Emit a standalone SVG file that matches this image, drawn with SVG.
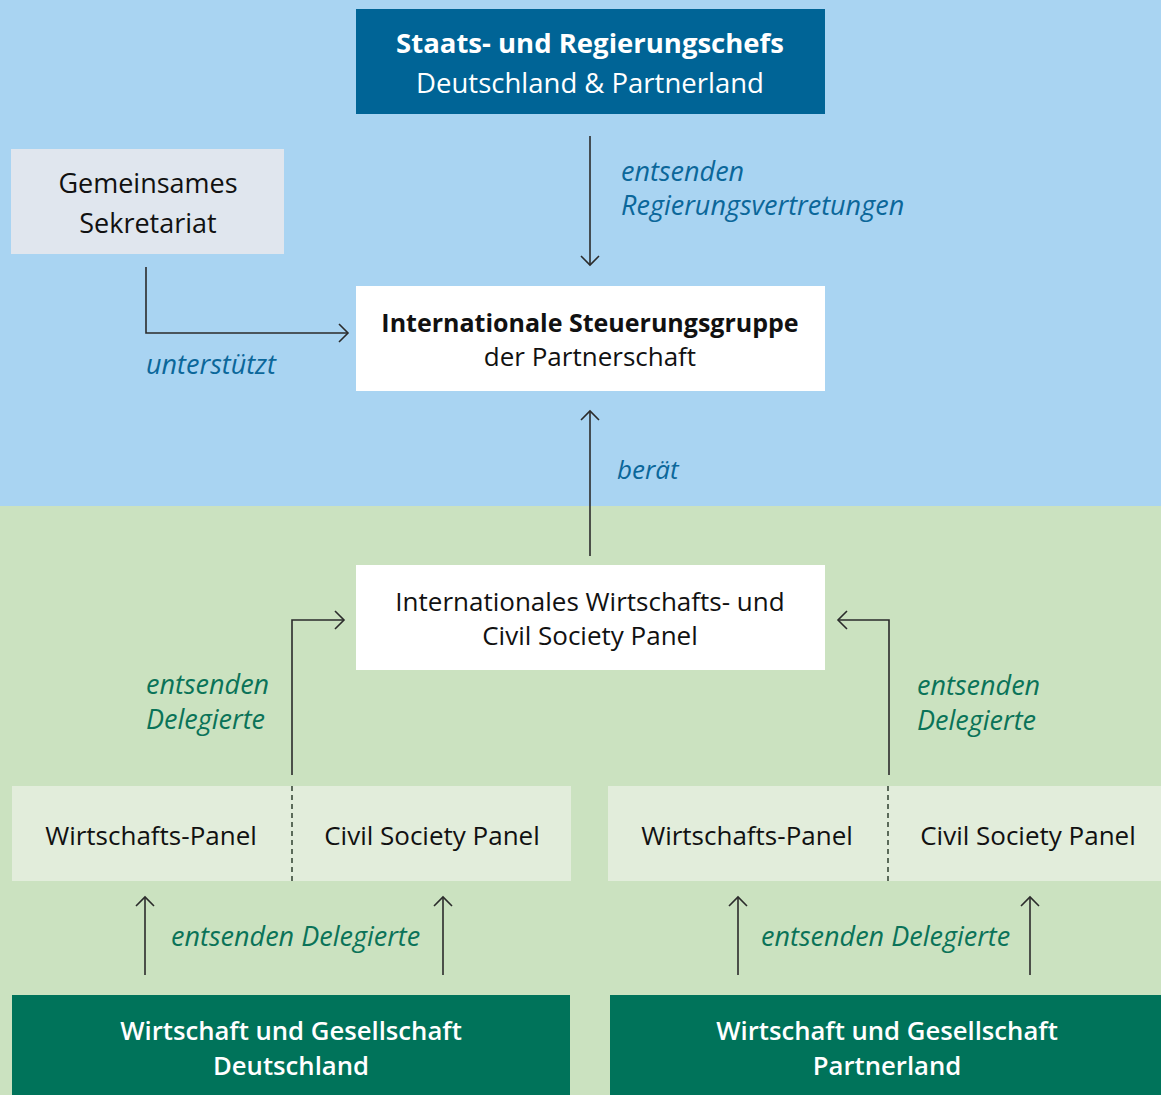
<svg xmlns="http://www.w3.org/2000/svg" width="1161" height="1095" viewBox="0 0 1161 1095">
<defs>
<marker id="arr" markerUnits="userSpaceOnUse" markerWidth="24" markerHeight="24" viewBox="-12 -12 24 24" refX="0" refY="0" orient="auto">
<path d="M -9 -9 L 0 0 L -9 9" fill="none" stroke="#2b2b2b" stroke-width="1.6"/>
</marker>
</defs>
<style>
text{font-family:"Open Sans","Noto Sans","DejaVu Sans",sans-serif;text-anchor:middle}
.t{font-size:26px;fill:#111}
.b{font-weight:bold}
.w{fill:#fff}
.lb{font-size:27px;font-style:italic;fill:#0B679A;text-anchor:start}
.lg{font-size:27px;font-style:italic;fill:#0A7358;text-anchor:start}
.c{fill:none;stroke:#2b2b2b;stroke-width:1.6;marker-end:url(#arr)}
.d{stroke:#3a4a3a;stroke-width:1.6;stroke-dasharray:5 4}
</style>
<rect x="0" y="0" width="1161" height="506" fill="#A9D4F2"/>
<rect x="0" y="506" width="1161" height="589" fill="#CBE2C0"/>

<g id="staats">
<rect x="356" y="9" width="469" height="105" fill="#006496"/>
<text class="t b w" x="590" y="53" style="font-size:27.5px">Staats- und Regierungschefs</text>
<text class="t w" x="590" y="93" style="font-size:27.5px">Deutschland &amp; Partnerland</text>
</g>

<g id="sekretariat">
<rect x="11" y="149" width="273" height="105" fill="#E0E6EE"/>
<text class="t" x="148" y="193" style="font-size:27px">Gemeinsames</text>
<text class="t" x="148" y="233" style="font-size:27px">Sekretariat</text>
</g>

<g id="steuerung">
<rect x="356" y="286" width="469" height="105" fill="#fff"/>
<text class="t b" x="590" y="332" style="font-size:25px">Internationale Steuerungsgruppe</text>
<text class="t" x="590" y="366">der Partnerschaft</text>
</g>

<g id="panel">
<rect x="356" y="565" width="469" height="105" fill="#fff"/>
<text class="t" x="590" y="611">Internationales Wirtschafts- und</text>
<text class="t" x="590" y="645">Civil Society Panel</text>
</g>

<g id="panels-de">
<rect x="12" y="786" width="559" height="95" fill="#E2EDDB"/>
<line class="d" x1="292" y1="786" x2="292" y2="881"/>
<text class="t" x="151" y="845">Wirtschafts-Panel</text>
<text class="t" x="432" y="845">Civil Society Panel</text>
</g>

<g id="panels-pl">
<rect x="608" y="786" width="553" height="95" fill="#E2EDDB"/>
<line class="d" x1="888" y1="786" x2="888" y2="881"/>
<text class="t" x="747" y="845">Wirtschafts-Panel</text>
<text class="t" x="1028" y="845">Civil Society Panel</text>
</g>

<g id="wg-de">
<rect x="12" y="995" width="558" height="100" fill="#00735A"/>
<text class="t w" x="291" y="1040" style="font-weight:600;font-size:25.7px">Wirtschaft und Gesellschaft</text>
<text class="t w" x="291" y="1075" style="font-weight:600;font-size:25.7px">Deutschland</text>
</g>

<g id="wg-pl">
<rect x="610" y="995" width="551" height="100" fill="#00735A"/>
<text class="t w" x="887" y="1040" style="font-weight:600;font-size:25.7px">Wirtschaft und Gesellschaft</text>
<text class="t w" x="887" y="1075" style="font-weight:600;font-size:25.7px">Partnerland</text>
</g>

<g id="connectors">
<path class="c" d="M 590 136 L 590 265"/>
<path class="c" d="M 146 267 L 146 333 L 348 333"/>
<path class="c" d="M 590 556 L 590 411"/>
<path class="c" d="M 292 775 L 292 620 L 344 620"/>
<path class="c" d="M 889 775 L 889 620 L 838 620"/>
<path class="c" d="M 145 975 L 145 897"/>
<path class="c" d="M 443 975 L 443 897"/>
<path class="c" d="M 738 975 L 738 897"/>
<path class="c" d="M 1030 975 L 1030 897"/>
</g>

<g id="labels">
<text class="lb" x="621" y="181">entsenden</text>
<text class="lb" x="621" y="215">Regierungsvertretungen</text>
<text class="lb" x="146" y="374">unterstützt</text>
<text class="lb" x="617" y="479" style="font-size:26px">berät</text>
<text class="lg" x="146" y="694">entsenden</text>
<text class="lg" x="146" y="729">Delegierte</text>
<text class="lg" x="917" y="695">entsenden</text>
<text class="lg" x="917" y="730">Delegierte</text>
<text class="lg" x="171" y="946">entsenden Delegierte</text>
<text class="lg" x="761" y="946">entsenden Delegierte</text>
</g>
</svg>
